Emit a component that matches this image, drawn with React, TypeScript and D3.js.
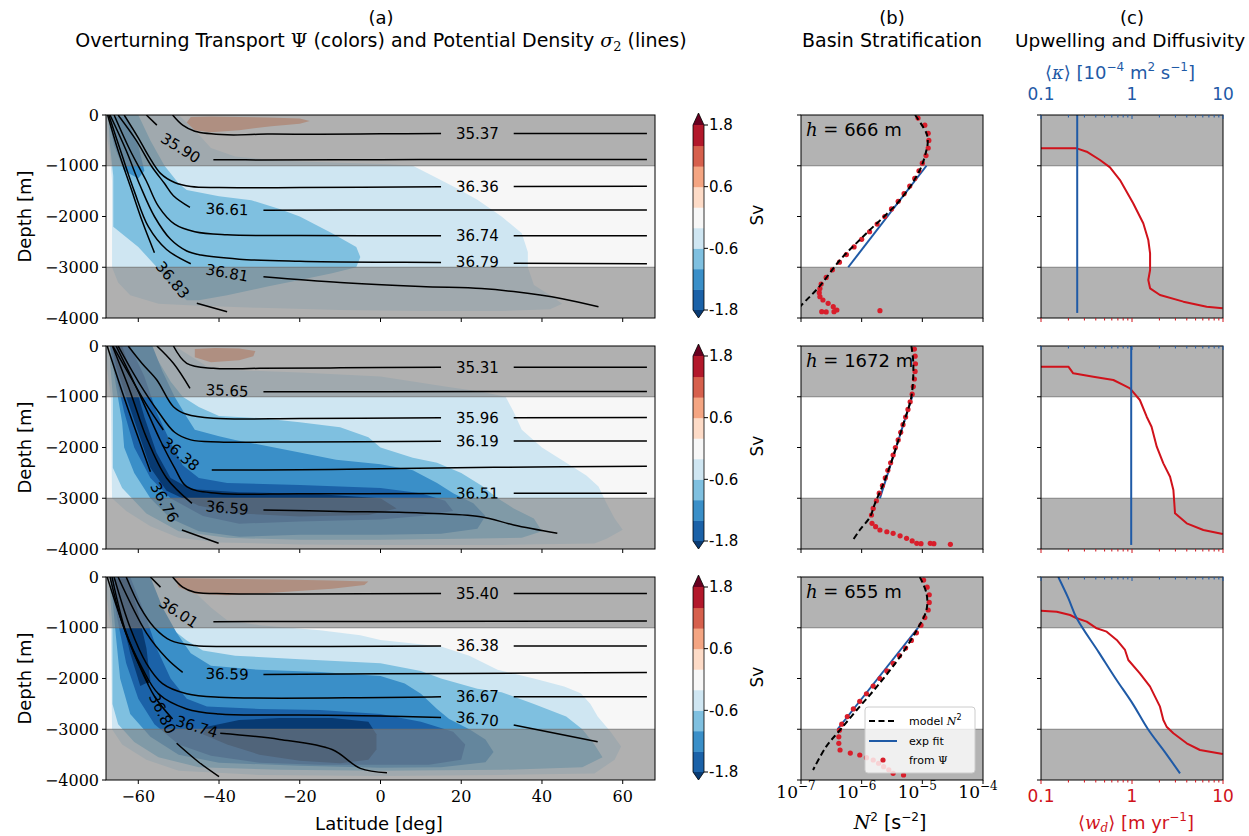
import React from "react";
import * as d3 from "d3";

type P = [number, number];

// ---------- values ----------
const latTicks = [-60, -40, -20, 0, 20, 40, 60];
const depthTicks = [0, -1000, -2000, -3000, -4000];
const psiLevels = [-1.8, -1.4, -1.0, -0.6, -0.2, 0.2, 0.6, 1.0, 1.4, 1.8];
const psiColors = ["#083a72", "#1b62a8", "#3a8fc8", "#7fc0e0", "#cfe6f2", "#f7f7f7", "#fddbc7", "#f4a582", "#d6604d", "#b2182b", "#67001f"];
const cbarTicks = [1.8, 0.6, -0.6, -1.8];
const hValues = [666, 1672, 655];
const n2Exps = [-7, -6, -5, -4];
const wLabels = ["0.1", "1", "10"];

// overturning transport, one polygon per filled level (v = value inside)
const psiRow1 = [
  { v: -0.4, pts: [[-68, 0], [-50, 0], [-46, -300], [-42, -650], [-36, -820], [-25, -900], [-10, -940], [2, -970], [8, -1000], [13, -1200], [19, -1450], [24, -1670], [30, -2000], [35, -2330], [36.5, -2700], [36.5, -3000], [38, -3350], [42, -3550], [45, -3720], [42, -3830], [30, -3860], [10, -3860], [-10, -3840], [-30, -3800], [-45, -3760], [-55, -3720], [-62, -3550], [-65, -3300], [-66.5, -3000], [-66.5, -1300], [-67, -800], [-68, -300]] },
  { v: -0.8, pts: [[-67.5, 0], [-60, 0], [-57, -500], [-53.5, -1000], [-50, -1350], [-48, -1480], [-40, -1600], [-32, -1680], [-25, -1850], [-20, -2000], [-12, -2330], [-6, -2600], [-5, -2800], [-6, -3000], [-12, -3120], [-20, -3250], [-28, -3380], [-38, -3550], [-45, -3650], [-48, -3650], [-52, -3350], [-55.4, -3000], [-60, -2600], [-66.2, -2200], [-66.2, -1200], [-67, -600]] },
  { v: -1.2, pts: [[-67.5, -30], [-63, -30], [-60, -600], [-58.5, -1100], [-60, -1250], [-63.5, -1100], [-66, -600]] },
  { v: 0.8, pts: [[-47, -40], [-42, -30], [-35, -40], [-28, -50], [-20, -70], [-17.5, -120], [-20, -170], [-27, -220], [-35, -300], [-42, -340], [-46, -300], [-48, -150]] },
];
const psiRow2 = [
  { v: -0.4, pts: [[-68, 0], [-51, 0], [-46, -250], [-43, -400], [-35, -480], [-20, -520], [-10, -560], [0, -600], [8, -700], [16, -800], [25, -900], [31, -1000], [33, -1300], [35, -1650], [40, -2000], [46, -2300], [51, -2550], [54, -2770], [56, -3100], [58, -3400], [60, -3620], [56, -3800], [53, -3890], [30, -3920], [0, -3920], [-20, -3910], [-40, -3870], [-50, -3780], [-57, -3550], [-63, -3250], [-66.5, -3000], [-66.8, -1000], [-68, -300]] },
  { v: -0.8, pts: [[-67, 0], [-58, 0], [-55, -300], [-52, -700], [-49, -1000], [-45, -1200], [-40, -1380], [-30, -1420], [-20, -1500], [-10, -1600], [-3, -1800], [0, -2000], [8, -2200], [14, -2300], [20, -2500], [25, -2750], [29, -3000], [33, -3200], [38, -3400], [40, -3650], [35, -3780], [20, -3800], [0, -3820], [-20, -3820], [-38, -3780], [-50, -3650], [-58, -3300], [-64, -2800], [-66.3, -2400], [-66.3, -1000], [-67, -300]] },
  { v: -1.2, pts: [[-67, 0], [-56.5, 0], [-54, -500], [-51, -1000], [-48, -1400], [-46, -1650], [-40, -1780], [-36, -1850], [-20, -2100], [-11, -2240], [0, -2330], [8, -2450], [14, -2700], [18, -2900], [23, -3100], [26, -3350], [24, -3600], [15, -3700], [0, -3720], [-20, -3720], [-35, -3760], [-45, -3650], [-52, -3400], [-57, -3000], [-61, -2500], [-63.5, -2000], [-64, -1500], [-65.5, -800]] },
  { v: -1.6, pts: [[-67, 0], [-62, 0], [-58.5, -600], [-55.5, -1300], [-52, -1900], [-49, -2350], [-45, -2600], [-38, -2700], [-20, -2740], [0, -2800], [10, -2900], [16, -3050], [18, -3250], [10, -3350], [0, -3420], [-20, -3460], [-35, -3500], [-44, -3350], [-52, -3000], [-57, -2600], [-61, -2000], [-63.5, -1300], [-65.5, -600]] },
  { v: -2.0, pts: [[-66.5, 0], [-64, 0], [-61, -700], [-58.5, -1400], [-55.5, -2100], [-52, -2600], [-47, -2820], [-35, -2880], [-15, -2920], [0, -3000], [4, -3200], [-3, -3330], [-20, -3360], [-35, -3300], [-45, -3150], [-53, -2850], [-57, -2400], [-60, -1700], [-63, -1000], [-65.5, -400]] },
  { v: 0.8, pts: [[-46, -60], [-41, -40], [-35, -50], [-31, -100], [-31.5, -200], [-35, -280], [-42, -320], [-46, -220]] },
];
const psiRow3 = [
  { v: -0.4, pts: [[-68, 0], [-51, 0], [-46, -300], [-42, -600], [-38, -850], [-30, -950], [-15, -1050], [-5, -1150], [0, -1240], [15, -1370], [22, -1550], [29, -1830], [38, -2000], [45.5, -2160], [49.6, -2290], [52, -2500], [53.8, -2750], [57, -3050], [59.6, -3340], [58, -3600], [53, -3870], [30, -3900], [0, -3920], [-30, -3900], [-50, -3820], [-58, -3600], [-64, -3300], [-66.5, -3000], [-66.8, -1000], [-68, -300]] },
  { v: -0.8, pts: [[-67, 0], [-58, 0], [-55, -500], [-52, -1000], [-48, -1250], [-44, -1450], [-36, -1550], [-20, -1620], [-5, -1680], [0, -1700], [10, -1850], [15, -2000], [24, -2200], [30, -2270], [38, -2500], [46, -2750], [50, -3000], [53, -3300], [55, -3550], [50, -3750], [30, -3800], [0, -3820], [-25, -3800], [-45, -3750], [-55, -3550], [-61, -3250], [-65, -2900], [-66.4, -2500], [-66.4, -1000], [-67, -300]] },
  { v: -1.2, pts: [[-67, 0], [-57, 0], [-54, -600], [-50.5, -1100], [-47, -1500], [-42, -1750], [-30, -1830], [-15, -1870], [0, -1950], [6, -2100], [10, -2300], [14, -2600], [17, -2800], [22, -3000], [26, -3200], [28, -3450], [26, -3650], [15, -3750], [0, -3760], [-20, -3720], [-40, -3660], [-50, -3500], [-57, -3150], [-62, -2700], [-64.5, -2000], [-65.5, -1200], [-66.3, -500]] },
  { v: -1.6, pts: [[-67, 0], [-62, 0], [-58.5, -700], [-55.5, -1400], [-52, -2000], [-48, -2400], [-43, -2550], [-30, -2600], [-15, -2620], [0, -2700], [10, -2850], [18, -3050], [21, -3300], [20, -3600], [12, -3700], [0, -3700], [-15, -3700], [-30, -3660], [-42, -3520], [-50, -3300], [-56, -2900], [-60, -2400], [-63, -1700], [-65, -900]] },
  { v: -2.0, pts: [[-66, -30], [-62.5, -30], [-60, -700], [-58, -1400], [-57, -2050], [-59.5, -2150], [-62, -1500], [-64.5, -700]] },
  { v: -2.0, pts: [[-43, -2950], [-35, -2820], [-25, -2780], [-12, -2780], [-3, -2850], [-1, -3100], [-1, -3400], [-3, -3600], [-10, -3670], [-20, -3620], [-30, -3500], [-38, -3300], [-44, -3100]] },
  { v: 0.8, pts: [[-51, -20], [-44, -30], [-35, -40], [-25, -50], [-12, -70], [-3, -90], [-4, -160], [-12, -230], [-25, -300], [-38, -360], [-46, -330], [-50, -200]] },
];

// potential density contours: pieces either side of the inline label
const sigmaRow1 = [
  { label: "35.37", at: [24, -365], segs: [[[-51.5, 0], [-49, -200], [-46, -320], [-38, -390], [-28, -375], [-15, -380], [0, -370], [15, -365]], [[33, -365], [66, -365]]] },
  { label: "35.90", at: [-49.5, -650], segs: [[[-58, 0], [-55.4, -200]], [[-41.4, -880], [-30, -885], [0, -880], [30, -875], [66, -875]]] },
  { label: "36.36", at: [24, -1410], segs: [[[-63.5, 0], [-60, -450], [-57.5, -800], [-54.5, -1150], [-51, -1330], [-47, -1410], [-40, -1430], [-20, -1430], [15, -1415]], [[33, -1410], [66, -1405]]] },
  { label: "36.61", at: [-38, -1860], segs: [[[-65, 0], [-60.5, -500], [-56.8, -1000], [-53.5, -1350], [-51.3, -1590], [-47.2, -1820]], [[-29, -1875], [0, -1872], [66, -1872]]] },
  { label: "36.74", at: [24, -2380], segs: [[[-66, 0], [-62, -700], [-58, -1300], [-55, -1800], [-51, -2150], [-46, -2300], [-38, -2360], [-20, -2375], [15, -2380]], [[33, -2380], [66, -2380]]] },
  { label: "36.79", at: [24, -2890], segs: [[[-67, 0], [-63, -700], [-59.5, -1400], [-56, -2000], [-52, -2450], [-48, -2680], [-44.5, -2760], [-35, -2840], [-20, -2880], [0, -2900], [15, -2905]], [[33, -2920], [66, -2930]]] },
  { label: "36.81", at: [-38, -3110], segs: [[[-67.3, 0], [-64, -800], [-61, -1500], [-57.5, -2200], [-53, -2650], [-47, -2930]], [[-29, -3186], [-10, -3300], [10, -3380], [25, -3420], [33, -3480], [45, -3620], [54, -3780]]] },
  { label: "36.83", at: [-51.5, -3250], segs: [[[-67.6, 0], [-65, -700], [-62, -1400], [-59, -2100], [-56, -2713]], [[-45.5, -3711], [-38, -3875]]] },
];
const sigmaRow2 = [
  { label: "35.31", at: [24, -420], segs: [[[-51.3, 0], [-48, -341], [-41.4, -440], [-30, -440], [-10, -430], [15, -420]], [[33, -420], [66, -420]]] },
  { label: "35.65", at: [-38, -880], segs: [[[-55.4, 0], [-51.3, -341], [-47.2, -834]], [[-29, -900], [0, -900], [66, -895]]] },
  { label: "35.96", at: [24, -1412], segs: [[[-62.5, 0], [-59, -350], [-55.4, -670], [-51.3, -1196], [-48, -1346], [-41.4, -1425], [-20, -1430], [15, -1415]], [[33, -1412], [66, -1410]]] },
  { label: "36.19", at: [24, -1872], segs: [[[-65, 0], [-60, -700], [-55, -1300], [-51, -1700], [-47, -1850], [-40, -1890], [-20, -1890], [15, -1875]], [[33, -1872], [66, -1870]]] },
  { label: "36.38", at: [-49.5, -2130], segs: [[[-66.3, 0], [-62, -600], [-58, -1150], [-53.8, -1655]], [[-41.8, -2443], [-20, -2440], [0, -2420], [30, -2390], [66, -2370]]] },
  { label: "36.51", at: [24, -2902], segs: [[[-65.5, 0], [-60, -900], [-54.6, -1852], [-51, -2400], [-48, -2772], [-40.5, -2902], [-20, -2910], [15, -2905]], [[33, -2902], [66, -2902]]] },
  { label: "36.59", at: [-38, -3190], segs: [[[-66.4, 0], [-62, -900], [-58, -1800], [-53, -2600], [-46.7, -3100]], [[-29, -3231], [-10, -3260], [10, -3290], [24.8, -3363], [33, -3527], [43.8, -3690]]] },
  { label: "36.76", at: [-53.5, -3080], segs: [[[-67.7, 0], [-64, -900], [-60.5, -1700], [-57, -2476]], [[-49.2, -3625], [-40.1, -3887]]] },
];
const sigmaRow3 = [
  { label: "35.40", at: [24, -325], segs: [[[-51.5, 0], [-49, -200], [-46, -300], [-38, -330], [-20, -335], [15, -325]], [[33, -325], [66, -325]]] },
  { label: "36.01", at: [-50, -700], segs: [[[-57, 0], [-54.5, -200]], [[-41.4, -880], [0, -875], [66, -865]]] },
  { label: "36.38", at: [24, -1360], segs: [[[-63, 0], [-59.5, -600], [-56, -1000], [-52, -1250], [-46, -1350], [-38, -1370], [15, -1360]], [[33, -1360], [66, -1360]]] },
  { label: "36.59", at: [-38, -1910], segs: [[[-65, 0], [-58, -1100], [-53, -1600], [-49, -1880]], [[-29, -1920], [20, -1900], [66, -1880]]] },
  { label: "36.67", at: [24, -2360], segs: [[[-66, 0], [-62, -1000], [-58, -1700], [-54, -2100], [-48, -2300], [-40, -2370], [15, -2360]], [[33, -2360], [66, -2360]]] },
  { label: "36.70", at: [24, -2800], segs: [[[-66.5, 0], [-63, -1100], [-59, -1800], [-55, -2300], [-48, -2600], [-40, -2700], [-20, -2720], [0, -2740], [15, -2770]], [[33, -2916], [53.8, -3245]]] },
  { label: "36.74", at: [-45.5, -2950], segs: [[[-67, 0], [-64, -900], [-60, -1700], [-56, -2350], [-51.5, -2800]], [[-39.7, -3080], [-25, -3200], [-12, -3400], [-5, -3770], [1.6, -3855]]] },
  { label: "36.80", at: [-54, -2690], segs: [[[-67.7, 0], [-64, -900], [-60.5, -1600], [-57.5, -2094]], [[-50.5, -3277], [-45, -3650], [-40, -3933]]] },
];

// basin stratification N^2 [s^-2] vs depth [m]
const n2Model1 = [[7.6e-6, 0], [1.17e-5, -361], [1.23e-5, -520], [1.17e-5, -690], [9.1e-6, -1084], [4.3e-6, -1675], [1.2e-6, -2330], [4.4e-7, -2857], [2.0e-7, -3383], [1.02e-7, -3744], [8.5e-8, -3850]];
const n2Model2 = [[6.6e-6, 0], [7.1e-6, -341], [6.6e-6, -998], [4.9e-6, -1523], [3.3e-6, -2181], [2.3e-6, -2706], [1.66e-6, -3099], [1.38e-6, -3363], [9.3e-7, -3626], [6.9e-7, -3856]];
const n2Model3 = [[9.1e-6, 0], [1.17e-5, -322], [1.17e-5, -650], [8.1e-6, -1044], [4.3e-6, -1570], [1.78e-6, -2161], [8.3e-7, -2621], [4.4e-7, -3015], [2.6e-7, -3343], [1.58e-7, -3803]];
const n2Fit1 = [[1.17e-5, -1000], [6.0e-7, -3000]];
const n2Fit2 = [[6.8e-6, -1000], [2.0e-6, -3000]];
const n2Fit3 = [[8.5e-6, -1000], [4.0e-7, -3000]];
const n2Psi1 = [[8.5e-6, -60], [1.1e-5, -200], [1.25e-5, -360], [1.28e-5, -500], [1.25e-5, -650], [1.15e-5, -800], [1.0e-5, -950], [8.8e-6, -1100], [7.5e-6, -1250], [6.2e-6, -1400], [5.0e-6, -1550], [4.0e-6, -1700], [3.1e-6, -1850], [2.4e-6, -2000], [1.8e-6, -2150], [1.35e-6, -2300], [1.0e-6, -2450], [7.5e-7, -2600], [5.6e-7, -2750], [4.3e-7, -2900], [3.3e-7, -3050], [2.6e-7, -3200], [2.15e-7, -3330], [2.05e-7, -3420], [2.0e-7, -3500], [2.05e-7, -3580], [2.3e-7, -3645], [2.8e-7, -3711], [3.4e-7, -3777], [3.9e-7, -3842], [3.5e-7, -3875], [2.6e-7, -3880], [2.2e-7, -3875], [2.0e-6, -3856]];
const n2Psi2 = [[7.4e-6, -60], [7.6e-6, -200], [7.7e-6, -350], [7.6e-6, -500], [7.4e-6, -650], [7.1e-6, -800], [6.8e-6, -950], [6.3e-6, -1100], [5.8e-6, -1250], [5.3e-6, -1400], [4.8e-6, -1550], [4.4e-6, -1700], [4.0e-6, -1850], [3.6e-6, -2000], [3.3e-6, -2150], [3.0e-6, -2300], [2.7e-6, -2450], [2.45e-6, -2600], [2.2e-6, -2750], [1.95e-6, -2900], [1.75e-6, -3050], [1.55e-6, -3200], [1.45e-6, -3330], [1.48e-6, -3494], [1.7e-6, -3560], [2.0e-6, -3626], [2.6e-6, -3660], [3.3e-6, -3691], [4.3e-6, -3740], [5.5e-6, -3790], [6.8e-6, -3840], [8.1e-6, -3888], [9.5e-6, -3895], [1.35e-5, -3888], [1.55e-5, -3895], [2.9e-5, -3908]];
const n2Psi3 = [[1.05e-5, -60], [1.2e-5, -200], [1.3e-5, -350], [1.3e-5, -500], [1.25e-5, -650], [1.1e-5, -800], [9.5e-6, -950], [8.0e-6, -1100], [6.6e-6, -1250], [5.3e-6, -1400], [4.2e-6, -1550], [3.3e-6, -1700], [2.6e-6, -1850], [2.0e-6, -2000], [1.55e-6, -2150], [1.2e-6, -2300], [9.3e-7, -2450], [7.3e-7, -2600], [5.8e-7, -2750], [4.7e-7, -2900], [4.3e-7, -3020], [4.2e-7, -3150], [4.2e-7, -3277], [4.4e-7, -3409], [6.5e-7, -3470], [9.3e-7, -3507], [1.2e-6, -3560], [1.55e-6, -3606], [1.9e-6, -3670], [2.3e-6, -3737], [2.8e-6, -3800], [3.3e-6, -3868], [4.9e-6, -3901]];

// upwelling <w_d> [m/yr] and diffusivity <kappa> [1e-4 m2/s] vs depth
const wd1 = [[0.1, -657], [0.247, -657], [0.318, -723], [0.445, -887], [0.573, -1031], [0.738, -1281], [1.03, -1740], [1.33, -2134], [1.51, -2463], [1.58, -2726], [1.58, -3054], [1.51, -3251], [1.58, -3415], [2.03, -3547], [3.67, -3678], [6.62, -3777], [9.9, -3810]];
const wd2 = [[0.1, -407], [0.2, -407], [0.226, -538], [0.376, -604], [0.624, -670], [0.8, -768], [0.95, -834], [1.22, -1064], [1.45, -1393], [1.64, -1590], [1.87, -1984], [2.21, -2312], [2.62, -2575], [2.85, -2837], [2.97, -3297], [3.99, -3494], [6.08, -3626], [9.93, -3704]];
const wd3 = [[0.1, -663], [0.149, -683], [0.209, -749], [0.247, -814], [0.318, -880], [0.409, -1011], [0.527, -1077], [0.679, -1241], [0.838, -1438], [0.911, -1635], [1.22, -1898], [1.58, -2161], [1.79, -2358], [2.03, -2555], [2.21, -2818], [2.4, -2949], [2.85, -3080], [3.99, -3277], [5.58, -3409], [9.93, -3488]];
const kappa1 = [[0.25, 0], [0.25, -3900]];
const kappa2 = [[0.98, 0], [0.98, -3920]];
const kappa3 = [[0.155, 0], [0.2, -420], [0.247, -814], [0.43, -1480], [0.66, -2000], [1.02, -2500], [1.5, -3000], [2.3, -3450], [3.37, -3870]];

const psiRows = [psiRow1, psiRow2, psiRow3];
const sigmaRows = [sigmaRow1, sigmaRow2, sigmaRow3];
const n2Models = [n2Model1, n2Model2, n2Model3];
const n2Fits = [n2Fit1, n2Fit2, n2Fit3];
const n2Psis = [n2Psi1, n2Psi2, n2Psi3];
const wds = [wd1, wd2, wd3];
const kappas = [kappa1, kappa2, kappa3];

// ---------- layout ----------
const W = 1249, H = 836;
const rowTop = [115, 346, 577];
const rowH = 203;
const sans = "'DejaVu Sans', sans-serif";
const serif = "'DejaVu Serif', serif";
const RED = "#d0121b";
const BLUE = "#1f5aa6";
const GRAY = "#808080";

const xLat = d3.scaleLinear().domain([-68, 68]).range([106, 655]);
const xN2 = d3.scaleLog().domain([1e-7, 1e-4]).range([801, 983]);
const xW = d3.scaleLog().domain([0.1, 10]).range([1041, 1223]);
const psiColor = d3.scaleThreshold<number, string>().domain(psiLevels).range(psiColors);
const yRow = (r: number) => d3.scaleLinear().domain([0, -4000]).range([rowTop[r], rowTop[r] + rowH]);

function Shading({ x0, x1, y }: any) {
  return (
    <g>
      <rect x={x0} y={y(0)} width={x1 - x0} height={y(-1000) - y(0)} fill={GRAY} fillOpacity={0.6} />
      <rect x={x0} y={y(-3000)} width={x1 - x0} height={y(-4000) - y(-3000)} fill={GRAY} fillOpacity={0.6} />
      <line x1={x0} x2={x1} y1={y(-1000)} y2={y(-1000)} stroke="#6e6e6e" strokeWidth={0.8} />
      <line x1={x0} x2={x1} y1={y(-3000)} y2={y(-3000)} stroke="#6e6e6e" strokeWidth={0.8} />
    </g>
  );
}

function DepthTicks({ x0, y, labels }: any) {
  return (
    <g>
      {depthTicks.map((d) => (
        <g key={d}>
          <line x1={x0 - 4} x2={x0} y1={y(d)} y2={y(d)} stroke="black" />
          {labels && (
            <text x={x0 - 7} y={y(d)} dy="0.35em" textAnchor="end" fontFamily={serif} fontSize={16}>
              {d === 0 ? "0" : "\u2212" + Math.abs(d)}
            </text>
          )}
        </g>
      ))}
    </g>
  );
}

function PanelA({ row }: { row: number }) {
  const y = yRow(row);
  const top = rowTop[row];
  const [x0, x1] = xLat.range();
  const poly = d3.line<any>().x((d) => xLat(d[0])).y((d) => y(d[1])).curve(d3.curveLinearClosed);
  const path = d3.line<any>().x((d) => xLat(d[0])).y((d) => y(d[1])).curve(d3.curveCatmullRom.alpha(0.5));
  const clip = `clipA${row}`;
  return (
    <g>
      <defs>
        <clipPath id={clip}>
          <rect x={x0} y={top} width={x1 - x0} height={rowH} />
        </clipPath>
      </defs>
      <g clipPath={`url(#${clip})`}>
        <rect x={x0} y={top} width={x1 - x0} height={rowH} fill={psiColor(0)} />
        {psiRows[row].map((b, i) => (
          <path key={i} d={poly(b.pts) || ""} fill={psiColor(b.v)} />
        ))}
        <Shading x0={x0} x1={x1} y={y} />
        {sigmaRows[row].map((c) => (
          <g key={c.label}>
            {c.segs.map((s, i) => (
              <path key={i} d={path(s) || ""} fill="none" stroke="black" strokeWidth={1.5} />
            ))}
          </g>
        ))}
        {sigmaRows[row].map((c) => {
          const a = c.segs[0][c.segs[0].length - 1];
          const b = c.segs[1][0];
          const ang = (Math.atan2(y(b[1]) - y(a[1]), xLat(b[0]) - xLat(a[0])) * 180) / Math.PI;
          const px = xLat(c.at[0]);
          const py = y(c.at[1]);
          return (
            <text key={c.label} x={px} y={py} dy="0.35em" textAnchor="middle" fontFamily={sans} fontSize={15}
              transform={`rotate(${ang.toFixed(1)},${px},${py})`}>
              {c.label}
            </text>
          );
        })}
      </g>
      <rect x={x0} y={top} width={x1 - x0} height={rowH} fill="none" stroke="black" />
      <DepthTicks x0={x0} y={y} labels={true} />
      {latTicks.map((t) => (
        <g key={t}>
          <line x1={xLat(t)} x2={xLat(t)} y1={top + rowH} y2={top + rowH + 4} stroke="black" />
          {row === 2 && (
            <text x={xLat(t)} y={top + rowH + 22} textAnchor="middle" fontFamily={serif} fontSize={16}>
              {t < 0 ? "\u2212" + Math.abs(t) : String(t)}
            </text>
          )}
        </g>
      ))}
      <text transform={`translate(31,${top + rowH / 2}) rotate(-90)`} textAnchor="middle" fontFamily={sans} fontSize={18}>
        Depth [m]
      </text>
    </g>
  );
}

function Colorbar({ row }: { row: number }) {
  const top = rowTop[row];
  const cx0 = 693, cx1 = 704;
  const cy = d3.scaleLinear().domain([1.8, -1.8]).range([top + 10, top + 195]);
  const bands = d3.pairs(psiLevels);
  return (
    <g>
      {bands.map(([lo, hi], i) => (
        <rect key={i} x={cx0} y={cy(hi)} width={cx1 - cx0} height={cy(lo) - cy(hi) + 0.5} fill={psiColor((lo + hi) / 2)} />
      ))}
      <path d={`M${cx0},${cy(1.8)}L${(cx0 + cx1) / 2},${top - 2}L${cx1},${cy(1.8)}Z`} fill={psiColors[10]} />
      <path d={`M${cx0},${cy(-1.8)}L${(cx0 + cx1) / 2},${top + rowH}L${cx1},${cy(-1.8)}Z`} fill={psiColors[0]} />
      <path d={`M${cx0},${cy(1.8)}L${(cx0 + cx1) / 2},${top - 2}L${cx1},${cy(1.8)}L${cx1},${cy(-1.8)}L${(cx0 + cx1) / 2},${top + rowH}L${cx0},${cy(-1.8)}Z`}
        fill="none" stroke="black" strokeWidth={0.8} />
      {cbarTicks.map((t) => (
        <g key={t}>
          <line x1={cx1} x2={cx1 + 4} y1={cy(t)} y2={cy(t)} stroke="black" />
          <text x={cx1 + 5} y={cy(t)} dy="0.35em" fontFamily={sans} fontSize={15}>{t.toFixed(1)}</text>
        </g>
      ))}
      <text transform={`translate(763,${top + 100}) rotate(-90)`} textAnchor="middle" fontFamily={sans} fontSize={17}>Sv</text>
    </g>
  );
}

function Legend() {
  const lx = 865, ly = 707;
  const items = ["model", "exp fit", "from"];
  return (
    <g>
      <rect x={lx} y={ly} width={110} height={66} rx={3} fill="white" fillOpacity={0.8} stroke="#cccccc" />
      <line x1={lx + 4} x2={lx + 32} y1={ly + 14} y2={ly + 14} stroke="black" strokeWidth={2} strokeDasharray="6,3.5" />
      <line x1={lx + 4} x2={lx + 32} y1={ly + 34} y2={ly + 34} stroke={BLUE} strokeWidth={2} />
      <circle cx={lx + 18} cy={ly + 53} r={2.6} fill="#d81e2b" />
      <text x={lx + 44} y={ly + 18} fontFamily={sans} fontSize={11}>
        {items[0]} <tspan fontFamily={serif} fontStyle="italic">N</tspan><tspan fontSize={8} dy={-5}>2</tspan>
      </text>
      <text x={lx + 44} y={ly + 38} fontFamily={sans} fontSize={11}>{items[1]}</text>
      <text x={lx + 44} y={ly + 57} fontFamily={sans} fontSize={11}>
        {items[2]} <tspan fontFamily={serif}>{"\u03A8"}</tspan>
      </text>
    </g>
  );
}

function PanelB({ row }: { row: number }) {
  const y = yRow(row);
  const top = rowTop[row];
  const [x0, x1] = xN2.range();
  const line = d3.line<any>().x((d) => xN2(d[0])).y((d) => y(d[1])).curve(d3.curveCatmullRom.alpha(0.5));
  const clip = `clipB${row}`;
  return (
    <g>
      <defs>
        <clipPath id={clip}>
          <rect x={x0} y={top} width={x1 - x0} height={rowH} />
        </clipPath>
      </defs>
      <rect x={x0} y={top} width={x1 - x0} height={rowH} fill="white" />
      <g clipPath={`url(#${clip})`}>
        <Shading x0={x0} x1={x1} y={y} />
        <path d={line(n2Fits[row]) || ""} fill="none" stroke={BLUE} strokeWidth={2} />
        {n2Psis[row].map((d, i) => (
          <circle key={i} cx={xN2(d[0])} cy={y(d[1])} r={2.6} fill="#d81e2b" />
        ))}
        <path d={line(n2Models[row]) || ""} fill="none" stroke="black" strokeWidth={2} strokeDasharray="6,3.5" />
      </g>
      <rect x={x0} y={top} width={x1 - x0} height={rowH} fill="none" stroke="black" />
      <DepthTicks x0={x0} y={y} labels={false} />
      {n2Exps.map((e) => (
        <g key={e}>
          <line x1={xN2(10 ** e)} x2={xN2(10 ** e)} y1={top + rowH} y2={top + rowH + 4} stroke="black" />
          {row === 2 && (
            <text x={xN2(10 ** e) - 5} y={top + rowH + 18} textAnchor="middle" fontFamily={serif} fontSize={17}>
              10<tspan fontSize={12} dy={-8}>{"\u2212" + Math.abs(e)}</tspan>
            </text>
          )}
        </g>
      ))}
      <text x={806} y={top + 21} fontFamily={sans} fontSize={18}>
        <tspan fontFamily={serif} fontStyle="italic">h</tspan>
        <tspan fontFamily={serif}> = </tspan>
        <tspan>{`${hValues[row]} m`}</tspan>
      </text>
      {row === 2 && <Legend />}
    </g>
  );
}

function PanelC({ row }: { row: number }) {
  const y = yRow(row);
  const top = rowTop[row];
  const [x0, x1] = xW.range();
  const line = d3.line<any>().x((d) => xW(d[0])).y((d) => y(d[1]));
  const smooth = d3.line<any>().x((d) => xW(d[0])).y((d) => y(d[1])).curve(d3.curveCatmullRom.alpha(0.5));
  const clip = `clipC${row}`;
  const ticks = xW.ticks();
  const isMajor = (t: number) => Math.abs(Math.log10(t) - Math.round(Math.log10(t))) < 1e-6;
  return (
    <g>
      <defs>
        <clipPath id={clip}>
          <rect x={x0} y={top} width={x1 - x0} height={rowH} />
        </clipPath>
      </defs>
      <rect x={x0} y={top} width={x1 - x0} height={rowH} fill="white" />
      <g clipPath={`url(#${clip})`}>
        <Shading x0={x0} x1={x1} y={y} />
        <path d={line(wds[row]) || ""} fill="none" stroke={RED} strokeWidth={2} strokeLinejoin="round" />
        <path d={smooth(kappas[row]) || ""} fill="none" stroke={BLUE} strokeWidth={2} />
      </g>
      <rect x={x0} y={top} width={x1 - x0} height={rowH} fill="none" stroke="black" />
      <DepthTicks x0={x0} y={y} labels={false} />
      {ticks.map((t, i) => (
        <g key={i}>
          <line x1={xW(t)} x2={xW(t)} y1={top + rowH} y2={top + rowH + (isMajor(t) ? 4 : 2.5)} stroke={RED} />
          <line x1={xW(t)} x2={xW(t)} y1={top} y2={top + (isMajor(t) ? 4 : 2.5)} stroke={BLUE} />
        </g>
      ))}
      {row === 2 &&
        [0.1, 1, 10].map((t, i) => (
          <text key={t} x={xW(t)} y={top + rowH + 22} textAnchor="middle" fontFamily={sans} fontSize={17} fill={RED}>
            {wLabels[i]}
          </text>
        ))}
      {row === 0 &&
        [0.1, 1, 10].map((t, i) => (
          <text key={t} x={xW(t)} y={top - 15} textAnchor="middle" fontFamily={sans} fontSize={17} fill={BLUE}>
            {wLabels[i]}
          </text>
        ))}
    </g>
  );
}

export default function App() {
  return (
    <svg width={W} height={H} style={{ position: "absolute", left: 0, top: 0, background: "white" }} fontFamily={sans}>
      <rect width={W} height={H} fill="white" />
      {/* titles */}
      <text x={381} y={24} textAnchor="middle" fontSize={18}>(a)</text>
      <text x={381} y={47} textAnchor="middle" fontSize={19}>
        Overturning Transport <tspan fontFamily={serif}>{"\u03A8"}</tspan> (colors) and Potential Density{" "}
        <tspan fontFamily={serif} fontStyle="italic">{"\u03C3"}</tspan>
        <tspan fontFamily={serif} fontSize={13} dy={4}>2</tspan>
        <tspan dy={-4}> (lines)</tspan>
      </text>
      <text x={892} y={24} textAnchor="middle" fontSize={18}>(b)</text>
      <text x={892} y={47} textAnchor="middle" fontSize={19}>Basin Stratification</text>
      <text x={1132} y={24} textAnchor="middle" fontSize={18}>(c)</text>
      <text x={1130} y={47} textAnchor="middle" fontSize={18.5}>Upwelling and Diffusivity</text>
      <text x={1120} y={79} textAnchor="middle" fontSize={18} fill={BLUE}>
        <tspan fontFamily={serif}>{"\u27E8"}</tspan>
        <tspan fontFamily={serif} fontStyle="italic">{"\u03BA"}</tspan>
        <tspan fontFamily={serif}>{"\u27E9"}</tspan> [10<tspan fontSize={12} dy={-8}>{"\u22124"}</tspan>
        <tspan dy={8}> m</tspan><tspan fontSize={12} dy={-8}>2</tspan>
        <tspan dy={8}> s</tspan><tspan fontSize={12} dy={-8}>{"\u22121"}</tspan>
        <tspan dy={8}>]</tspan>
      </text>

      {[0, 1, 2].map((r) => (
        <g key={r}>
          <PanelA row={r} />
          <Colorbar row={r} />
          <PanelB row={r} />
          <PanelC row={r} />
        </g>
      ))}

      {/* axis labels */}
      <text x={379} y={830} textAnchor="middle" fontSize={18}>Latitude [deg]</text>
      <text x={890} y={829} textAnchor="middle" fontSize={19}>
        <tspan fontFamily={serif} fontStyle="italic">N</tspan>
        <tspan fontSize={12} dy={-8}>2</tspan>
        <tspan dy={8}> [s</tspan><tspan fontSize={12} dy={-8}>{"\u22122"}</tspan>
        <tspan dy={8}>]</tspan>
      </text>
      <text x={1136} y={829} textAnchor="middle" fontSize={18} fill={RED}>
        <tspan fontFamily={serif}>{"\u27E8"}</tspan>
        <tspan fontFamily={serif} fontStyle="italic">w</tspan>
        <tspan fontFamily={serif} fontStyle="italic" fontSize={12} dy={3}>d</tspan>
        <tspan fontFamily={serif} dy={-3}>{"\u27E9"}</tspan> [m yr<tspan fontSize={12} dy={-8}>{"\u22121"}</tspan>
        <tspan dy={8}>]</tspan>
      </text>
    </svg>
  );
}
